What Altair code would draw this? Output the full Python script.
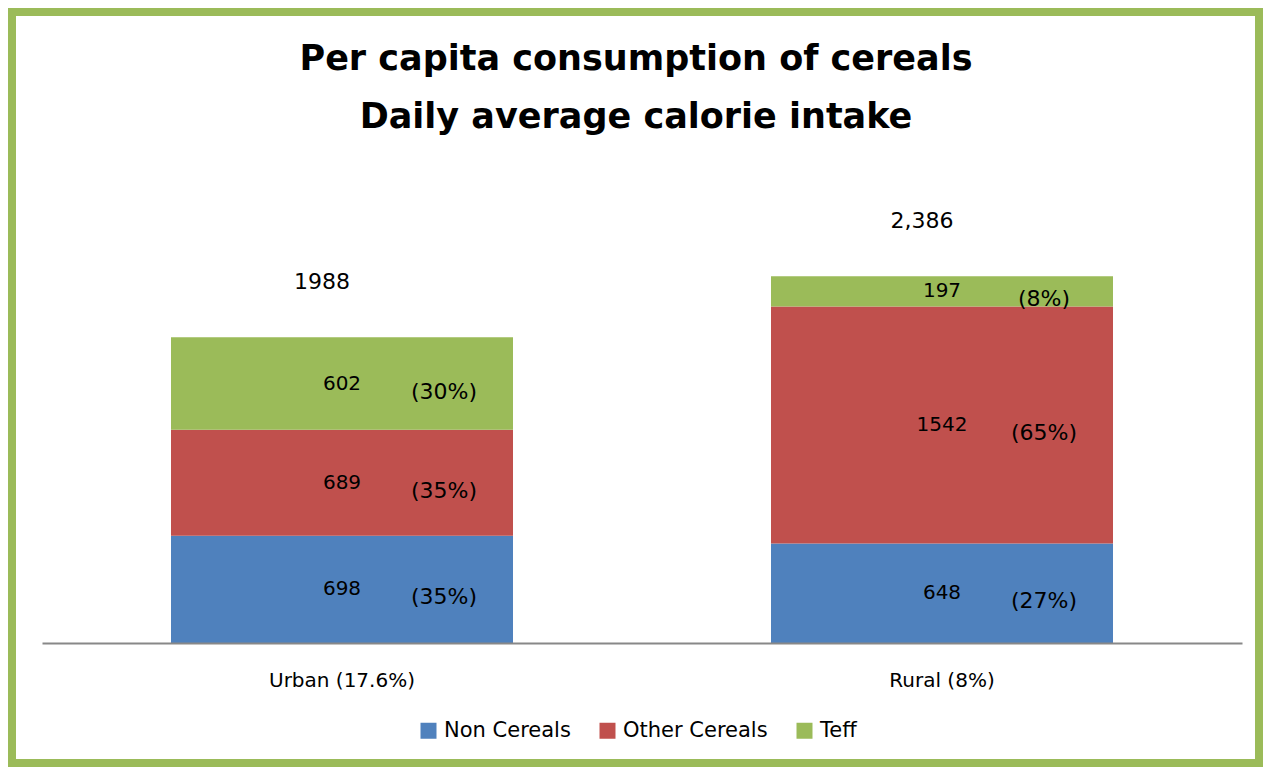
import altair as alt
import pandas as pd

areas = ["Urban (17.6%)", "Rural (8%)"]
components = ["Non Cereals", "Other Cereals", "Teff"]
non_cereals = [698, 648]
other_cereals = [689, 1542]
teff = [602, 197]
pct_non = ["(35%)", "(27%)"]
pct_other = ["(35%)", "(65%)"]
pct_teff = ["(30%)", "(8%)"]
total_labels = ["1988", "2,386"]

colors = ["#4F81BD", "#C0504D", "#9BBB59"]
FONT = "DejaVu Sans"

rows = []
for i, a in enumerate(areas):
    for j, (comp, vals, pcts) in enumerate(zip(components,
                                               [non_cereals, other_cereals, teff],
                                               [pct_non, pct_other, pct_teff])):
        rows.append({"area": a, "component": comp, "value": vals[i],
                     "pct": pcts[i], "idx": j})
df = pd.DataFrame(rows)

df_tot = pd.DataFrame({
    "area": areas,
    "label": total_labels,
    "total": [n + o + t for n, o, t in zip(non_cereals, other_cereals, teff)],
})

xenc = alt.X("area:N", sort=areas, title=None,
             scale=alt.Scale(paddingInner=0.43, paddingOuter=0.215),
             axis=alt.Axis(labelAngle=0, ticks=False, domainColor="#888888",
                           domainWidth=2, labelFont=FONT, labelFontSize=20,
                           labelColor="#000000", labelPadding=27, zindex=1))
yscale = alt.Scale(domain=[0, 3000])

base = alt.Chart(df)

panel = alt.Chart(pd.DataFrame({"a": [0]})).mark_rect(color="white").encode(
    x=alt.value(-26), x2=alt.value(1213), y=alt.value(-166), y2=alt.value(577)
)

bars = base.mark_bar().encode(
    x=xenc,
    y=alt.Y("value:Q", stack="zero", scale=yscale, axis=None),
    color=alt.Color("component:N", sort=components,
                    scale=alt.Scale(domain=components, range=colors),
                    legend=alt.Legend(title=None, orient="none", direction="horizontal",
                                      legendX=376, legendY=538, symbolType="square",
                                      symbolSize=256, symbolStrokeWidth=0,
                                      labelFont=FONT, labelFontSize=21,
                                      labelColor="#000000", labelOffset=5,
                                      columnPadding=26, padding=0, zindex=1)),
    order=alt.Order("idx:Q"),
)

stacked = base.transform_stack(
    stack="value", as_=["v0", "v1"], groupby=["area"], sort=[alt.SortField("idx")]
).transform_calculate(mid="(datum.v0 + datum.v1) / 2")

vals = stacked.mark_text(font=FONT, fontSize=20, color="#000000", baseline="middle").encode(
    x=alt.X("area:N", sort=areas),
    y=alt.Y("mid:Q", scale=yscale),
    text=alt.Text("value:Q"),
)

pcts = stacked.mark_text(font=FONT, fontSize=22, color="#000000", baseline="middle",
                         dx=102, dy=8).encode(
    x=alt.X("area:N", sort=areas),
    y=alt.Y("mid:Q", scale=yscale),
    text=alt.Text("pct:N"),
)

tots = alt.Chart(df_tot).mark_text(font=FONT, fontSize=22, color="#000000",
                                   baseline="middle", dx=-20, dy=-55).encode(
    x=alt.X("area:N", sort=areas),
    y=alt.Y("total:Q", scale=yscale),
    text=alt.Text("label:N"),
)

chart = alt.layer(panel, bars, vals, pcts, tots).properties(
    width=1200,
    height=461,
    background="#9BBB59",
    autosize=alt.AutoSizeParams(type="none"),
    padding={"left": 34, "top": 174, "right": 21, "bottom": 124},
    title=alt.TitleParams(
        text=["Per capita consumption of cereals", "Daily average calorie intake"],
        font=FONT, fontSize=35, fontWeight="bold", color="#000000",
        lineHeight=58, anchor="middle", dx=-6, offset=-119, zindex=1,
    ),
).configure_view(stroke=None)

chart.save("out.html", embed_options={"renderer": "svg", "actions": False})
